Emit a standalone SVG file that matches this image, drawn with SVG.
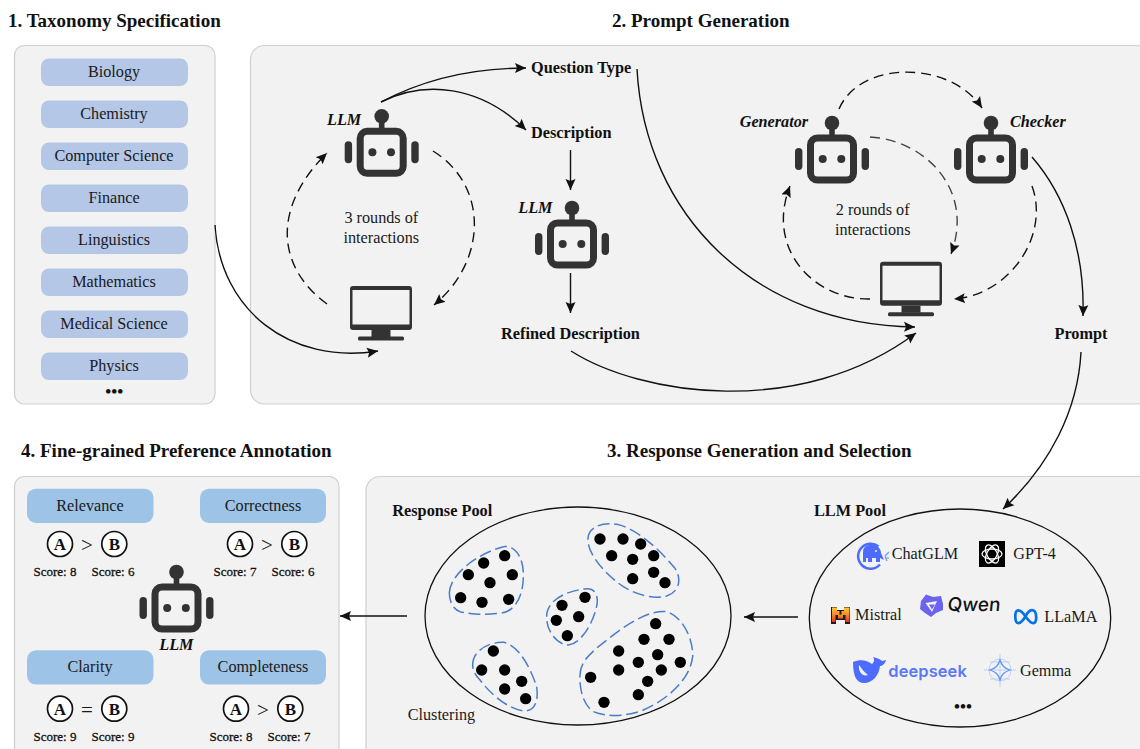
<svg xmlns="http://www.w3.org/2000/svg" width="1140" height="749" viewBox="0 0 1140 749">
<style>
text{font-family:"Liberation Serif","Times New Roman",serif;fill:#1a1a1a;font-size:16.2px}
.m{text-anchor:middle}
.b{font-weight:bold;fill:#111;font-size:16.3px}
.i{font-weight:bold;font-style:italic;fill:#111}
.t{font-weight:bold;font-size:19px;fill:#111}
.s{font-size:13px;fill:#111;stroke:#111;stroke-width:.3;text-anchor:middle}
.panel{fill:#f2f2f2;stroke:#cfcfcf;stroke-width:1.2}
.pill{fill:#b4c7e7}
.crit{fill:#9dc3e6}
.c{fill:#fff;stroke:#111;stroke-width:1.7}
.ltr{font-weight:bold;font-size:17px;text-anchor:middle;fill:#111}
.op{font-size:21px;text-anchor:middle}
.line{fill:none;stroke:#111;stroke-width:1.4}
.arr{marker-end:url(#ah)}
.dash{stroke-dasharray:10 6}
.pool{fill:none;stroke:#111;stroke-width:1.3}
.blob{fill:none;stroke:#4a7cc9;stroke-width:4.5;stroke-dasharray:36 14}
.dot{fill:#000}
</style>
<defs>
<marker id="ah" markerUnits="userSpaceOnUse" markerWidth="13" markerHeight="12" refX="11" refY="6" orient="auto">
<path d="M0,1 L11,6 L0,11 L2,6Z" fill="#111"/>
</marker>
<g id="robot">
<rect x="-21.500" y="-21" width="43" height="42" rx="7" fill="none" stroke="#333" stroke-width="7"/>
<circle cx="0" cy="-36" r="7.300" fill="#333"/>
<rect x="-2.800" y="-32" width="5.600" height="9" fill="#333"/>
<rect x="-37" y="-11" width="7.400" height="22" rx="3.700" fill="#333"/>
<rect x="29.600" y="-11" width="7.400" height="22" rx="3.700" fill="#333"/>
<circle cx="-9.300" cy="0" r="4" fill="#333"/>
<circle cx="9.300" cy="0" r="4" fill="#333"/>
</g>
<g id="monitor">
<path fill-rule="evenodd" fill="#333" d="M-28,0H28a3,3 0 0 1 3,3V41a3,3 0 0 1 -3,3H-28a3,3 0 0 1 -3,-3V3a3,3 0 0 1 3,-3ZM-28.500,4V38.500H28.500V4Z"/>
<rect x="-9.500" y="44" width="19" height="7" fill="#333"/>
<rect x="-23" y="50.500" width="46" height="4" rx="1.500" fill="#333"/>
</g>
<linearGradient id="mg" x1="0" y1="0" x2="0" y2="1"><stop offset="0" stop-color="#f9c93c"/><stop offset=".5" stop-color="#f58a2e"/><stop offset="1" stop-color="#e8321f"/></linearGradient>
</defs>

<g id="titles">
<text class="t" x="8" y="27">1. Taxonomy Specification</text>
<text class="t" x="612" y="27">2. Prompt Generation</text>
<text class="t" x="607" y="457">3. Response Generation and Selection</text>
<text class="t" x="21" y="457">4. Fine-grained Preference Annotation</text>
</g>

<g id="panel-taxonomy">
<rect class="panel" x="14.500" y="45.500" width="200.500" height="358.500" rx="10"/>
<rect class="pill" x="41" y="58.500" width="147" height="27.500" rx="8"/>
<text class="m" x="114" y="77">Biology</text>
<rect class="pill" x="41" y="100.500" width="147" height="27.500" rx="8"/>
<text class="m" x="114" y="119">Chemistry</text>
<rect class="pill" x="41" y="142.500" width="147" height="27.500" rx="8"/>
<text class="m" x="114" y="161">Computer Science</text>
<rect class="pill" x="41" y="184.500" width="147" height="27.500" rx="8"/>
<text class="m" x="114" y="203">Finance</text>
<rect class="pill" x="41" y="226.500" width="147" height="27.500" rx="8"/>
<text class="m" x="114" y="245">Linguistics</text>
<rect class="pill" x="41" y="268.500" width="147" height="27.500" rx="8"/>
<text class="m" x="114" y="287">Mathematics</text>
<rect class="pill" x="41" y="310.500" width="147" height="27.500" rx="8"/>
<text class="m" x="114" y="329">Medical Science</text>
<rect class="pill" x="41" y="352.500" width="147" height="27.500" rx="8"/>
<text class="m" x="114" y="371">Physics</text>
<text class="m b" x="114.300" y="397" style="font-size:17px">•••</text>
</g>

<g id="panel-prompt">
<rect class="panel" x="250.500" y="45.500" width="900" height="358.500" rx="14"/>
</g>

<g id="node-llm1"><use href="#robot" x="381.700" y="152.300"/><text class="i" x="327" y="125">LLM</text></g>
<g id="node-monitor1"><use href="#monitor" x="381" y="286"/></g>
<g id="label-rounds3"><text class="m" x="381.300" y="223">3 rounds of</text><text class="m" x="381.300" y="243">interactions</text></g>
<g id="node-question-type"><text class="b" x="531" y="73">Question Type</text></g>
<g id="node-description"><text class="b" x="531" y="138">Description</text></g>
<g id="node-llm2"><use href="#robot" x="572" y="244"/><text class="i" x="518.300" y="212.700">LLM</text></g>
<g id="node-refined"><text class="b m" x="570.500" y="339">Refined Description</text></g>
<g id="node-generator"><use href="#robot" x="832" y="159"/><text class="i" x="739.700" y="127">Generator</text></g>
<g id="node-checker"><use href="#robot" x="991" y="159"/><text class="i" x="1010" y="127">Checker</text></g>
<g id="node-monitor2"><use href="#monitor" x="911" y="261.700"/></g>
<g id="label-rounds2"><text class="m" x="872.700" y="215">2 rounds of</text><text class="m" x="872.700" y="235">interactions</text></g>
<g id="node-prompt"><text class="b m" x="1081" y="339">Prompt</text></g>

<g id="panel-annotation">
<rect class="panel" x="14.500" y="476.500" width="324.500" height="290" rx="10"/>
<rect class="crit" x="27" y="488.700" width="126.500" height="34.300" rx="9"/>
<text class="m" x="90" y="511">Relevance</text>
<circle class="c" cx="60" cy="544" r="12.500"/><text class="ltr" x="60" y="549.800">A</text>
<text class="op" x="87" y="552">&gt;</text>
<circle class="c" cx="114.300" cy="544" r="12.500"/><text class="ltr" x="114.300" y="549.800">B</text>
<text class="s" x="55" y="576">Score: 8</text><text class="s" x="113" y="576">Score: 6</text>
<rect class="crit" x="200" y="488.700" width="126" height="34.300" rx="9"/>
<text class="m" x="263" y="511">Correctness</text>
<circle class="c" cx="240" cy="544" r="12.500"/><text class="ltr" x="240" y="549.800">A</text>
<text class="op" x="267" y="552">&gt;</text>
<circle class="c" cx="294.300" cy="544" r="12.500"/><text class="ltr" x="294.300" y="549.800">B</text>
<text class="s" x="235" y="576">Score: 7</text><text class="s" x="293" y="576">Score: 6</text>
<rect class="crit" x="27" y="650.300" width="126.500" height="34.300" rx="9"/>
<text class="m" x="90" y="672">Clarity</text>
<circle class="c" cx="60" cy="708.700" r="12.500"/><text class="ltr" x="60" y="714.500">A</text>
<text class="op" x="87" y="717">=</text>
<circle class="c" cx="114.300" cy="708.700" r="12.500"/><text class="ltr" x="114.300" y="714.500">B</text>
<text class="s" x="55" y="741">Score: 9</text><text class="s" x="113" y="741">Score: 9</text>
<rect class="crit" x="200" y="650.300" width="126" height="34.300" rx="9"/>
<text class="m" x="263" y="672">Completeness</text>
<circle class="c" cx="236" cy="708.700" r="12.500"/><text class="ltr" x="236" y="714.500">A</text>
<text class="op" x="263" y="717">&gt;</text>
<circle class="c" cx="290.300" cy="708.700" r="12.500"/><text class="ltr" x="290.300" y="714.500">B</text>
<text class="s" x="231" y="741">Score: 8</text><text class="s" x="289" y="741">Score: 7</text>
</g>
<g id="node-llm3"><use href="#robot" x="176.500" y="608"/><text class="i" x="159.300" y="650">LLM</text></g>

<g id="panel-response">
<rect class="panel" x="366" y="476.500" width="800" height="290" rx="14"/>
</g>

<g id="node-response-pool">
<ellipse class="pool" cx="578" cy="616" rx="153" ry="109"/>
<text class="b" x="392.300" y="515.700">Response Pool</text>
<text x="407.700" y="720">Clustering</text>
<g transform="translate(360 480) scale(.33333)">
<path class="blob" d="M268,340C268,290 340,225 430,200C470,195 492,240 490,290C490,340 470,395 420,400C370,405 335,403 300,395C280,388 268,365 268,340Z"/>
<path class="blob" d="M684,175C686,140 730,125 770,133C830,145 900,210 945,265C965,295 960,335 920,348C880,358 830,345 790,320C745,290 680,225 684,175Z"/>
<path class="blob" d="M560,410C560,370 600,335 680,326C705,325 712,345 712,365C708,410 670,490 625,495C590,495 558,450 560,410Z"/>
<path class="blob" d="M338,555C338,510 390,485 430,487C475,495 510,560 530,620C537,670 520,695 490,693C440,685 390,640 360,600C345,585 338,570 338,555Z"/>
<path class="blob" d="M660,585C660,540 700,510 780,450C830,415 880,390 920,395C970,410 1000,480 998,530C990,600 920,660 850,690C800,710 740,712 700,695C670,675 658,630 660,585Z"/>
<g class="dot">
<circle cx="434" cy="227" r="17"/><circle cx="371" cy="249" r="17"/><circle cx="325" cy="284" r="17"/><circle cx="457" cy="284" r="17"/><circle cx="390" cy="308" r="17"/><circle cx="302" cy="353" r="17"/><circle cx="366" cy="367" r="17"/><circle cx="446" cy="358" r="17"/>
<circle cx="720" cy="177" r="17"/><circle cx="789" cy="177" r="17"/><circle cx="842" cy="192" r="17"/><circle cx="755" cy="227" r="17"/><circle cx="818" cy="238" r="17"/><circle cx="881" cy="227" r="17"/><circle cx="881" cy="277" r="17"/><circle cx="818" cy="296" r="17"/><circle cx="915" cy="308" r="17"/>
<circle cx="675" cy="352" r="17"/><circle cx="606" cy="376" r="17"/><circle cx="589" cy="421" r="17"/><circle cx="656" cy="410" r="17"/><circle cx="622" cy="467" r="17"/>
<circle cx="400" cy="513" r="17"/><circle cx="365" cy="570" r="17"/><circle cx="434" cy="570" r="17"/><circle cx="485" cy="604" r="17"/><circle cx="434" cy="627" r="17"/><circle cx="497" cy="656" r="17"/>
<circle cx="887" cy="431" r="17"/><circle cx="852" cy="478" r="17"/><circle cx="927" cy="478" r="17"/><circle cx="776" cy="513" r="17"/><circle cx="893" cy="524" r="17"/><circle cx="835" cy="547" r="17"/><circle cx="961" cy="547" r="17"/><circle cx="776" cy="570" r="17"/><circle cx="904" cy="570" r="17"/><circle cx="692" cy="592" r="17"/><circle cx="863" cy="604" r="17"/><circle cx="835" cy="644" r="17"/><circle cx="732" cy="667" r="17"/>
</g>
</g>
</g>

<g id="node-llm-pool">
<ellipse class="pool" cx="960" cy="618" rx="150.700" ry="109"/>
<text class="b" x="814" y="516">LLM Pool</text>
<g id="logo-chatglm">
<path d="M878.500,546.500A12.500,12.500 0 1 0 880,564.500" fill="none" stroke="#4d6bfe" stroke-width="2.500"/>
<path fill="#4d6bfe" d="M863,562V552C863,546 868,544.500 873,545C878,545.500 881,549 881,553L884,560L880,558V562H876V558H872V562H868V558H866V562Z"/>
<circle cx="876" cy="551" r="1" fill="#f2f2f2"/>
<path d="M885,556L889,552M885,558L889,558M885,556L887,561" stroke="#6a9bf0" stroke-width="1.200" fill="none"/>
</g>
<text x="891.700" y="559">ChatGLM</text>
<g id="logo-gpt">
<rect x="979" y="541" width="26" height="26" fill="#000"/>
<g fill="none" stroke="#fff" stroke-width="1.300">
<ellipse cx="992" cy="554" rx="5" ry="10" transform="rotate(30 992 554)"/>
<ellipse cx="992" cy="554" rx="5" ry="10" transform="rotate(90 992 554)"/>
<ellipse cx="992" cy="554" rx="5" ry="10" transform="rotate(150 992 554)"/>
</g>
</g>
<text x="1013.300" y="559">GPT-4</text>
<g id="logo-mistral">
<path d="M831,607H837V610H844V607H850V624H845V620H836V624H831Z" fill="#1c1c1c"/>
<path d="M832,607.500H837V611H839.500V614.500H841.500V611H844V607.500H849.500V622H845.500V615H843V618.500H838V615H835.500V622H832Z" fill="url(#mg)"/>
</g>
<text x="855" y="620">Mistral</text>
<g id="logo-qwen">
<path fill-rule="evenodd" fill="#6c63f0" d="M926,594.500L933,597L941,596L943,604L943,610L936,613L931,617L925,613L920,609L921,601ZM925.500,603L937,601L932,612Z"/>
<path d="M929,604.500H935L932,609.500Z" fill="#6c63f0"/>
<text transform="translate(947 610.500) skewX(-6)" x="0" y="0" textLength="53" lengthAdjust="spacing" style="font-family:'Inter',sans-serif;font-size:19px;font-weight:500;fill:#111">Qwen</text>
</g>
<g id="logo-meta">
<path d="M1025.500,616.500C1022,611 1019,610 1017.500,610.500C1014.500,611.500 1014.500,622.500 1018,623C1021,623.500 1024,619 1026,615.500C1028,612 1031,609.500 1033.500,610.500C1037,612 1037,622 1034,623C1031,624 1028,620 1025.500,616.500Z" fill="none" stroke="#0670e6" stroke-width="2.700"/>
</g>
<text x="1044.300" y="622.300">LLaMA</text>
<g id="logo-deepseek">
<path fill-rule="evenodd" fill="#4d6bfe" d="M853,662C860,659 867,660 872,664C874,662 875,660 873,657C878,658 881,660 882,661L886,660C885,664 882,666 880,666C879,675 873,683 864,683C857,683 853,677 853,662ZM859,665C858,671 862,677 868,675C864,672 862,669 859,665Z"/>
<text x="888.300" y="676.500" textLength="78.500" lengthAdjust="spacing" style="font-family:'Inter',sans-serif;font-size:16.500px;font-weight:600;fill:#5c78f5">deepseek</text>
</g>
<g id="logo-gemma" fill="none" stroke="#b4cff7" stroke-width=".9">
<circle cx="1000" cy="670" r="11"/>
<path d="M984,670H1016M1000,654V687M990,662H1010M990,679H1010"/>
<path d="M1000,660C1002,666 1004,668 1010,670C1004,672 1002,674 1000,680C998,674 996,672 990,670C996,668 998,666 1000,660Z" stroke="#5d96ef" stroke-width="1.300"/>
</g>
<text x="1020" y="676">Gemma</text>
<text class="m b" x="963" y="712" style="font-size:17px">•••</text>
</g>

<g id="connectors">
<path class="line arr" d="M215,225C220,310 290,365 378,351"/>
<path class="line arr dash" d="M327,304C274,265 274,205 327,153"/>
<path class="line arr dash" d="M433,151C488,185 488,260 434,305"/>
<path class="line arr" d="M381,102C430,76 480,68 526,68"/>
<path class="line arr" d="M381,102C425,80 480,85 526,130"/>
<path class="line arr" d="M570.500,150V190"/>
<path class="line arr" d="M570.500,273V313"/>
<path class="line arr" d="M637,69C645,215 755,325 915,327"/>
<path class="line arr" d="M571,351C640,395 800,420 916,333"/>
<path class="line arr dash" d="M839,109C860,60 950,60 982,108"/>
<path class="line arr dash" style="stroke:#444" d="M870,137C925,140 975,190 951,254"/>
<path class="line arr dash" d="M1032,186C1050,235 1010,295 954,299"/>
<path class="line arr dash" d="M870,299C815,300 765,250 790,186"/>
<path class="line arr" d="M1032,157C1065,195 1085,250 1083,316"/>
<path class="line arr" d="M1081,352C1078,410 1050,465 1003,509"/>
<path class="line arr" d="M798,617H744"/>
<path class="line arr" d="M407,616H340"/>
</g>
</svg>
